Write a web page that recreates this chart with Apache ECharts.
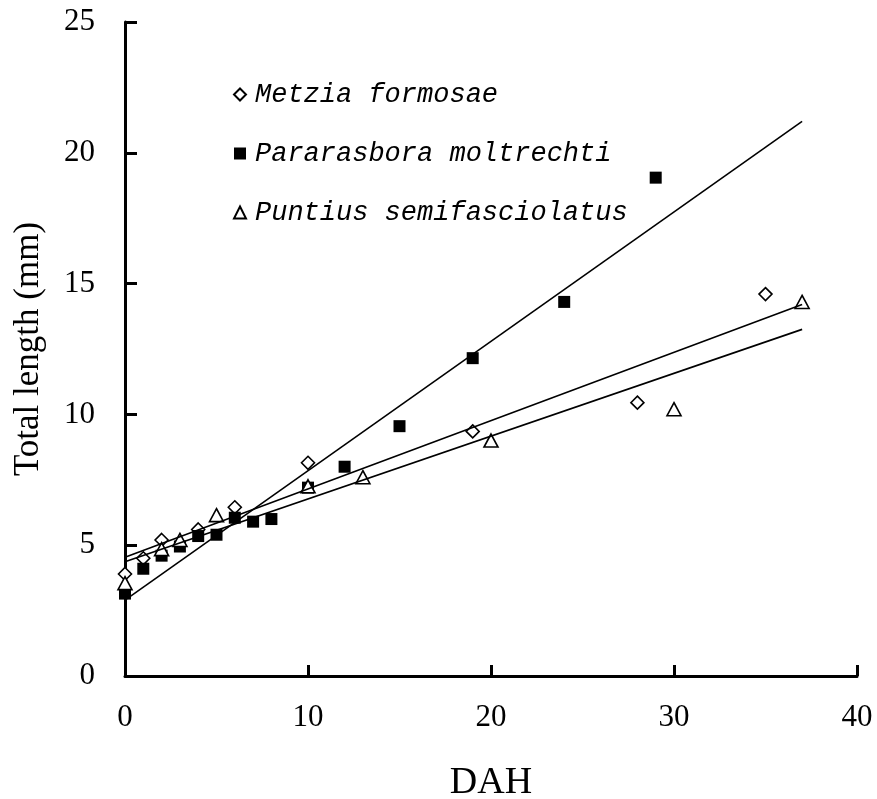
<!DOCTYPE html>
<html>
<head>
<meta charset="utf-8">
<script src="https://cdn.jsdelivr.net/npm/echarts@6/dist/echarts.min.js"></script>
<style>html,body{margin:0;padding:0;background:#fff}#c{width:877px;height:799px}</style>
</head>
<body>
<div id="c"></div>
<script>
// Data
const seriesNames = ['Metzia formosae', 'Pararasbora moltrechti', 'Puntius semifasciolatus'];

const dahMetzia = [0, 1, 2, 4, 6, 10, 19, 28, 35];
const tlMetzia  = [3.9, 4.5, 5.2, 5.6, 6.45, 8.15, 9.35, 10.45, 14.6];

const dahPararasbora = [0, 1, 2, 3, 4, 5, 6, 7, 8, 10, 12, 15, 19, 24, 29];
const tlPararasbora  = [3.15, 4.1, 4.6, 4.95, 5.35, 5.4, 6.05, 5.9, 6.0, 7.2, 8.0, 9.55, 12.15, 14.3, 19.05];

const dahPuntius = [0, 2, 3, 5, 10, 13, 20, 30, 37];
const tlPuntius  = [3.55, 4.85, 5.2, 6.15, 7.25, 7.6, 9.0, 10.2, 14.3];

// Linear trendlines (end points)
const fitDah = [0, 37];
const fitMetzia = [4.54, 14.2];
const fitPararasbora = [2.9, 21.2];
const fitPuntius = [4.37, 13.25];

const xTicks = [0, 10, 20, 30, 40];
const yTicks = [0, 5, 10, 15, 20, 25];

const zip = (xs, ys) => xs.map((x, i) => [x, ys[i]]);

const chart = echarts.init(document.getElementById('c'), null, {renderer: 'canvas'});

const emptyStyle = {color: '#ffffff', borderColor: '#000000', borderWidth: 1.6, opacity: 1};
const lineSeries = (name, ys) => ({
  name: name + ' fit',
  type: 'line',
  data: zip(fitDah, ys),
  symbol: 'none',
  silent: true,
  z: 5,
  lineStyle: {color: '#000', width: 1.6},
  animation: false
});

chart.setOption({
  animation: false,
  backgroundColor: '#ffffff',
  grid: {left: 125, right: 20, top: 22, bottom: 123, containLabel: false, outerBoundsMode: 'none'},
  legend: {
    data: seriesNames,
    orient: 'vertical',
    left: 228,
    top: 76,
    itemGap: 32,
    itemWidth: 12,
    itemHeight: 12,
    selectedMode: false,
    textStyle: {
      fontFamily: 'Liberation Mono',
      fontStyle: 'italic',
      fontSize: 27,
      lineHeight: 26,
      color: '#000',
      padding: [0, 0, 0, 4]
    }
  },
  xAxis: {
    type: 'value',
    min: xTicks[0],
    max: xTicks[xTicks.length - 1],
    interval: 10,
    name: 'DAH',
    nameLocation: 'middle',
    nameGap: 88,
    nameTextStyle: {fontFamily: 'Liberation Serif', fontSize: 38, color: '#000'},
    axisLine: {onZero: false, lineStyle: {color: '#000', width: 3}},
    axisTick: {inside: true, length: 11, lineStyle: {color: '#000', width: 3}},
    axisLabel: {margin: 26, fontFamily: 'Liberation Serif', fontSize: 31, color: '#000'},
    splitLine: {show: false}
  },
  yAxis: {
    type: 'value',
    min: yTicks[0],
    max: yTicks[yTicks.length - 1],
    interval: 5,
    name: 'Total length (mm)',
    nameLocation: 'middle',
    nameGap: 79,
    nameTextStyle: {fontFamily: 'Liberation Serif', fontSize: 35, color: '#000'},
    axisLine: {onZero: false, lineStyle: {color: '#000', width: 3}},
    axisTick: {inside: true, length: 12, lineStyle: {color: '#000', width: 3}},
    axisLabel: {margin: 30, fontFamily: 'Liberation Serif', fontSize: 31, color: '#000'},
    splitLine: {show: false}
  },
  series: [
    {
      name: seriesNames[0],
      type: 'scatter',
      data: zip(dahMetzia, tlMetzia),
      symbol: 'diamond',
      symbolSize: 13,
      itemStyle: emptyStyle,
      z: 3
    },
    {
      name: seriesNames[1],
      type: 'scatter',
      data: zip(dahPararasbora, tlPararasbora),
      symbol: 'rect',
      symbolSize: 12,
      itemStyle: {color: '#000', borderColor: '#000', borderWidth: 0, opacity: 1},
      z: 3
    },
    {
      name: seriesNames[2],
      type: 'scatter',
      data: zip(dahPuntius, tlPuntius),
      symbol: 'triangle',
      symbolSize: [14, 13],
      itemStyle: emptyStyle,
      z: 3
    },
    lineSeries(seriesNames[0], fitMetzia),
    lineSeries(seriesNames[1], fitPararasbora),
    lineSeries(seriesNames[2], fitPuntius)
  ]
});
</script>
</body>
</html>
